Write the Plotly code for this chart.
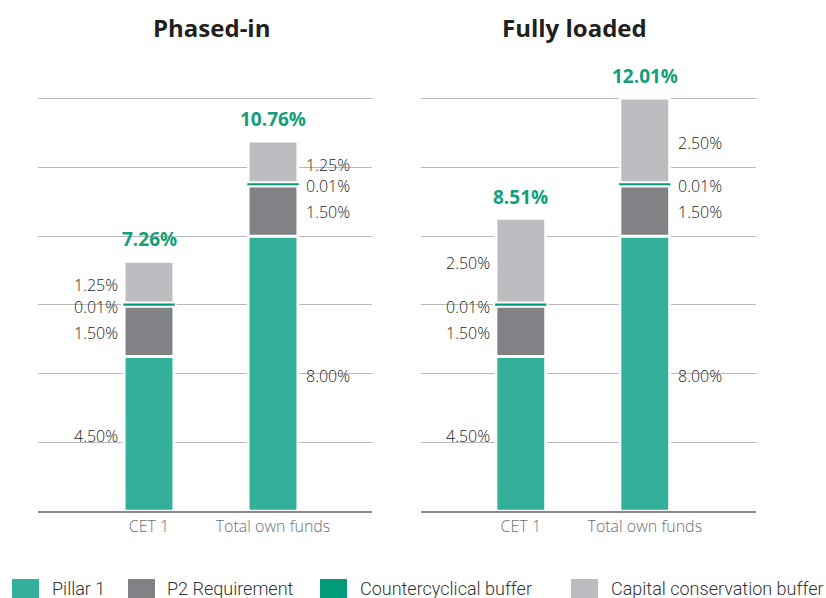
import numpy as np
import plotly.graph_objects as go

# ---- data -------------------------------------------------------------
panels = ["Phased-in", "Fully loaded"]
categories = ["CET 1", "Total own funds"]
series_names = ["Pillar 1", "P2 Requirement", "Countercyclical buffer",
                "Capital conservation buffer"]

pillar1_phased = [4.50, 8.00]
p2_phased = [1.50, 1.50]
ccyb_phased = [0.01, 0.01]
ccb_phased = [1.25, 1.25]

pillar1_full = [4.50, 8.00]
p2_full = [1.50, 1.50]
ccyb_full = [0.01, 0.01]
ccb_full = [2.50, 2.50]

totals_phased = [7.26, 10.76]
totals_full = [8.51, 12.01]

# ---- style ------------------------------------------------------------
colors = ["#33b09a", "#808285", "#009b77", "#bcbdc0"]
total_color = "#12a07a"
label_color = "#222222"
tick_color = "#6d6e71"
grid_color = "#b9b9b9"
W, H = 826, 598
BAR_W = 0.40
LABEL_FONT = dict(family="Open Sans", size=16, color=label_color, weight=300)

fig = go.Figure()

panel_data = [
    (pillar1_phased, p2_phased, ccyb_phased, ccb_phased, totals_phased, "x", "y"),
    (pillar1_full, p2_full, ccyb_full, ccb_full, totals_full, "x2", "y2"),
]

annotations = []
for p1, p2, cc, cb, tot, xa, ya in panel_data:
    segs = np.array([p1, p2, cc, cb], dtype=float)
    bases = np.vstack([np.zeros(2), np.cumsum(segs, axis=0)[:-1]])

    # Pillar 1, P2 and capital conservation buffer with white separators
    for i in (0, 1, 3):
        fig.add_trace(go.Bar(
            x=categories, y=segs[i], base=bases[i], width=BAR_W,
            marker=dict(color=colors[i], line=dict(color="white", width=2.7)),
            xaxis=xa, yaxis=ya, showlegend=False, hoverinfo="skip"))
    # countercyclical buffer: white halo, then the thin green band
    fig.add_trace(go.Bar(
        x=categories, y=segs[2], base=bases[2], width=BAR_W,
        marker=dict(color="white", line=dict(color="white", width=6)),
        xaxis=xa, yaxis=ya, showlegend=False, hoverinfo="skip"))
    fig.add_trace(go.Bar(
        x=categories, y=segs[2], base=bases[2], width=BAR_W,
        marker=dict(color=colors[2], line=dict(color=colors[2], width=1.8)),
        xaxis=xa, yaxis=ya, showlegend=False, hoverinfo="skip"))

    # segment labels: left of the first bar, right of the second
    for j in range(2):
        for i in range(4):
            mid = bases[i][j] + segs[i][j] / 2
            if j == 0:
                ax_x, anchor, shift = j - BAR_W / 2, "right", -4
            else:
                ax_x, anchor, shift = j + BAR_W / 2, "left", 6
            annotations.append(dict(
                x=ax_x, y=mid, xref=xa, yref=ya, text=f"{segs[i][j]:.2f}%",
                showarrow=False, xanchor=anchor, yanchor="middle",
                xshift=shift, yshift=-2, font=LABEL_FONT))
        # total above the stack
        annotations.append(dict(
            x=j, y=tot[j], xref=xa, yref=ya, text=f"<b>{tot[j]:.2f}%</b>",
            showarrow=False, xanchor="center", yanchor="bottom", yshift=7,
            font=dict(family="Open Sans", size=19, color=total_color)))

# panel titles
title_x = [211, 574]
for name, px in zip(panels, title_x):
    annotations.append(dict(
        x=px / W, y=(511 - 28) / 447, xref="paper", yref="paper",
        text=f"<b>{name}</b>", showarrow=False, xanchor="center",
        yanchor="middle", font=dict(family="Open Sans", size=24, color="#231f20")))

# legend row
legend_square_x = [12, 128, 320, 571]
legend_text_x = [52, 167, 360, 611]
shapes = []
for name, col, sx, tx in zip(series_names, colors, legend_square_x, legend_text_x):
    shapes.append(dict(
        type="rect", xref="paper", yref="paper",
        x0=sx / W, x1=(sx + 27) / W,
        y0=(511 - 579) / 447, y1=(511 - 606) / 447,
        fillcolor=col, line=dict(width=0)))
    annotations.append(dict(
        x=tx / W, y=(511 - 588) / 447, xref="paper", yref="paper",
        text=name, showarrow=False, xanchor="left", yanchor="middle",
        xshift=-2,
        font=dict(family="Roboto", size=18, color="#333333", weight=300)))

axis_common_x = dict(
    type="category", showgrid=False, showline=True, linecolor="#8a8a8a",
    linewidth=1.5, ticks="", tickfont=dict(family="Open Sans", size=16,
                                           color=tick_color, weight=300),
    fixedrange=True, zeroline=False)
axis_common_y = dict(
    range=[0, 13.005], tickvals=[2, 4, 6, 8, 10, 12], showticklabels=False,
    showgrid=True, gridcolor=grid_color, gridwidth=1, zeroline=False,
    showline=False, fixedrange=True)

fig.update_layout(
    width=W, height=H,
    margin=dict(l=0, r=0, t=64, b=87),
    paper_bgcolor="white", plot_bgcolor="white",
    barmode="overlay",
    showlegend=False,
    xaxis=dict(domain=[38.3 / W, 371.7 / W], range=[-0.893, 1.796], anchor="y",
               **axis_common_x),
    xaxis2=dict(domain=[421 / W, 756 / W], range=[-0.805, 1.897], anchor="y2",
                **axis_common_x),
    yaxis=dict(domain=[0, 1], anchor="x", **axis_common_y),
    yaxis2=dict(domain=[0, 1], anchor="x2", **axis_common_y),
    annotations=annotations,
    shapes=shapes,
)

fig.write_html("out.html")
